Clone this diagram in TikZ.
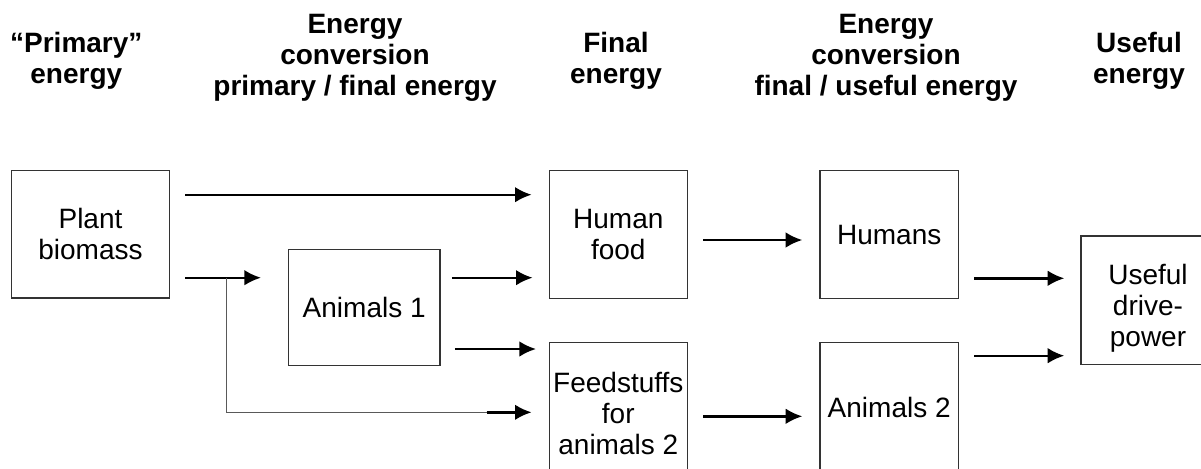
\documentclass[tikz,border=0pt]{standalone}
\usepackage{fontspec}
\setmainfont{Liberation Sans}
\usetikzlibrary{arrows.meta}
\begin{document}
\begin{tikzpicture}[x=0.5pt,y=-0.5pt,
  font=\fontsize{14}{15.5}\selectfont,
  box/.style={draw=black!80,line width=0.7pt,inner sep=0pt,align=center},
  head/.style={font=\fontsize{14}{15.5}\selectfont\bfseries,align=center,inner sep=0pt},
  flow/.style={-{Latex[length=8.3pt,width=7.8pt]},line width=1.2pt,shorten <=7.5pt,shorten >=8.5pt},
  feedline/.style={line width=0.7pt,black!65}]
\useasboundingbox (0,0) rectangle (1201,468);
% column titles
\node[head] (hprim) at (76.3,60.7) {“Primary”\\energy};
\node[head] (hconvA) at (355,58.2) {Energy\\conversion\\primary / final energy};
\node[head] (hfinal) at (616,60.7) {Final\\energy};
\node[head] (hconvB) at (886,58.2) {Energy\\conversion\\final / useful energy};
\node[head] (huseful) at (1139,60.7) {Useful\\energy};
% boxes
\node[box,minimum width=78.8pt,minimum height=63.6pt] (plant) at (90.5,234.3) {Plant\\biomass};
\node[box,minimum width=75.9pt,minimum height=58pt] (anim1) at (364.2,307.3) {Animals 1};
\node[box,minimum width=69pt,minimum height=63.8pt] (food) at (618.3,234.5) {Human\\food};
\node[box,minimum width=69pt,minimum height=70.7pt] (feed) at (618.3,413) {Feedstuffs\\for\\animals 2};
\node[box,minimum width=69.2pt,minimum height=63.8pt] (humans) at (889.2,234.5) {Humans};
\node[box,minimum width=69.2pt,minimum height=65.3pt] (anim2) at (889.2,407.6) {Animals 2};
\node[box,minimum width=67pt,minimum height=64.2pt,text height=46.5pt,text depth=0pt] (useful) at (1148,300.2) {Useful\\drive-\\power};
% rows of the arrows
\coordinate (r1) at (0,194.7);
\coordinate (r2) at (0,277.7);
\coordinate (r3) at (0,240);
\coordinate (r4) at (0,349);
\coordinate (r6) at (0,416.3);
\coordinate (r7) at (0,278.3);
\coordinate (r8) at (0,355.7);
\coordinate (split) at (226.7,277.7);
\coordinate (join) at (486.7,412.3);
% arrows
\draw[flow] (plant.east |- r1) -- (food.west |- r1);
\draw[flow,shorten >=13.3pt] (plant.east |- r2) -- (anim1.west |- r2);
\draw[feedline] (split) |- (join);
\draw[flow,shorten <=0pt] (join) -- (feed.west |- join);
\draw[flow,shorten <=5.5pt,shorten >=8pt] (anim1.east |- r2) -- (food.west |- r2);
\draw[flow,shorten <=7pt,shorten >=6.3pt] (anim1.east |- r4) -- (feed.west |- r4);
\draw[flow] (food.east |- r3) -- (humans.west |- r3);
\draw[flow] (feed.east |- r6) -- (anim2.west |- r6);
\draw[flow,shorten >=8pt] (humans.east |- r7) -- (useful.west |- r7);
\draw[flow,shorten >=8pt] (anim2.east |- r8) -- (useful.west |- r8);
\end{tikzpicture}
\end{document}
